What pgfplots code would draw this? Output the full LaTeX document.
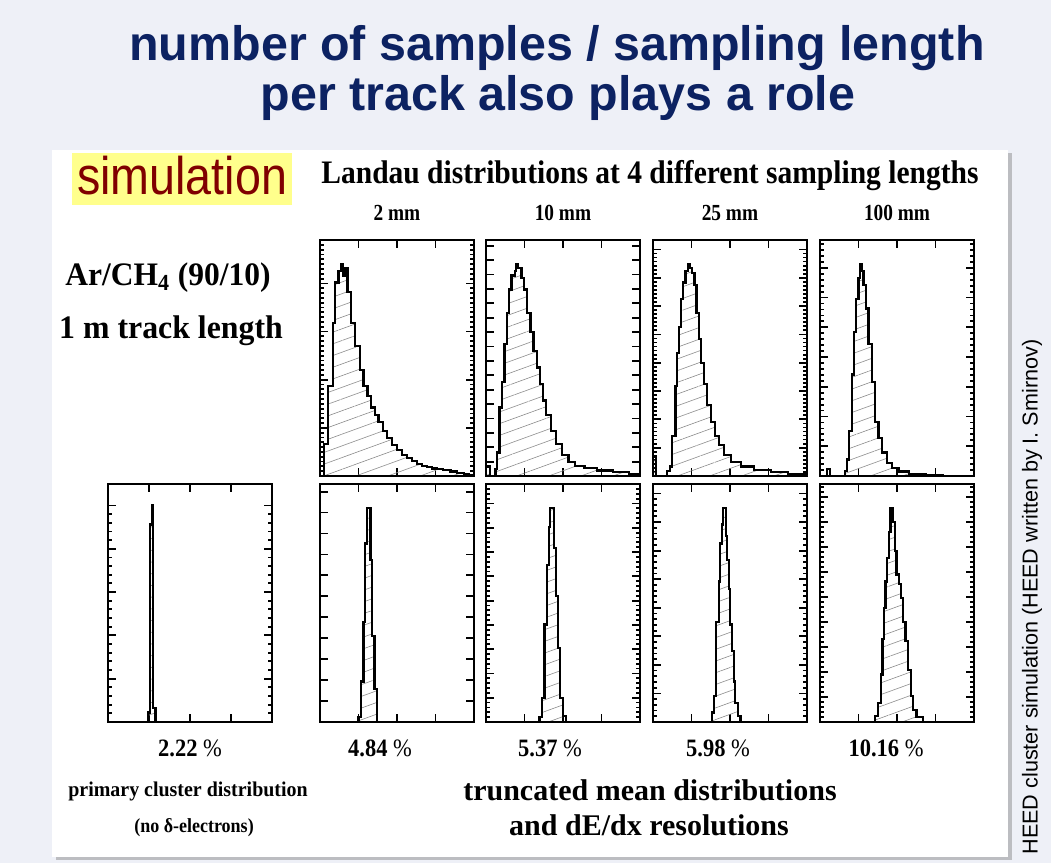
\documentclass[border=0pt]{standalone}
\usepackage{pgfplots}
\pgfplotsset{compat=1.18}
\usetikzlibrary{patterns.meta,shadows}
\usepackage{fontspec}
\setmainfont{Liberation Serif}
\newfontfamily\sans{Liberation Sans}

\definecolor{titleblue}{RGB}{12,34,98}
\definecolor{simred}{RGB}{128,0,0}
\definecolor{simyellow}{RGB}{255,255,140}
\definecolor{slidebg}{RGB}{238,240,247}

% positions below are in reference pixels, 1 px = 0.5pt, y downwards
\pgfplotsset{
  hist/.style={
    scale only axis, width=77pt, height=118pt,
    xmin=0, xmax=100, ymin=0, ymax=100,
    xtick={25,50,75}, xticklabels={}, yticklabels={},
    tick align=inside,
    major tick length=4pt, minor tick length=2.2pt,
    axis line style={line width=1.1pt},
    every tick/.append style={black, line width=0.9pt},
  },
  histfill/.style={const plot, draw=black, line width=1.1pt,
    pattern={Lines[angle=20,distance=5.5pt,line width=0.3pt]}, pattern color=black!45},
}

\begin{document}
\begin{tikzpicture}[x=0.5pt,y=-0.5pt]
\useasboundingbox (0,0) rectangle (1051,863);
% slide background and card
\fill[slidebg] (0,0) rectangle (1051,863);
\fill[white, drop shadow={shadow xshift=2pt, shadow yshift=-1.5pt, opacity=0.45}]
  (52,150) rectangle (1008,857);

% title
\node[anchor=base, font=\sans\bfseries\fontsize{24.2}{29}\selectfont, text=titleblue]
  at (557,60) {number of samples / sampling length};
\node[anchor=base, font=\sans\bfseries\fontsize{24.2}{29}\selectfont, text=titleblue]
  at (558,110) {per track also plays a role};

% labels
\fill[simyellow] (72,153) rectangle (292,205);
\node[anchor=base, xscale=0.88, font=\sans\fontsize{26.5}{30}\selectfont, text=simred]
  at (182,194) {simulation};
\node[anchor=base, xscale=0.9, font=\bfseries\fontsize{16.4}{19}\selectfont]
  at (650,183) {Landau distributions at 4 different sampling lengths};
\foreach \xx/\lab in {397/2 mm, 563/10 mm, 730/25 mm, 897/100 mm}
  \node[anchor=base, xscale=0.84, font=\bfseries\fontsize{11.5}{13}\selectfont]
    at (\xx,220) {\lab};
\node[anchor=base, xscale=0.96, font=\bfseries\fontsize{16.4}{19}\selectfont]
  at (168,285) {Ar/CH\textsubscript{4} (90/10)};
\node[anchor=base, xscale=0.97, font=\bfseries\fontsize{16.4}{19}\selectfont]
  at (171,338) {1 m track length};

\foreach \xx/\lab in {190/2.22, 380/4.84, 550/5.37, 718/5.98, 886/10.16}
  \node[anchor=base, xscale=0.9, font=\fontsize{12.5}{14}\selectfont]
    at (\xx,756) {\textbf{\lab} \%};
\node[anchor=base, xscale=0.95, font=\bfseries\fontsize{10.5}{12}\selectfont]
  at (188,796) {primary cluster distribution};
\node[anchor=base, xscale=0.9, font=\bfseries\fontsize{10}{12}\selectfont]
  at (194,832) {(no δ-electrons)};
\node[anchor=base, xscale=1.0, font=\bfseries\fontsize{15}{18}\selectfont]
  at (650,800) {truncated mean distributions};
\node[anchor=base, xscale=1.0, font=\bfseries\fontsize{15}{18}\selectfont]
  at (649,835) {and dE/dx resolutions};
\node[rotate=90, font=\sans\fontsize{10.8}{13}\selectfont]
  at (1032,597) {HEED cluster simulation (HEED written by I. Smirnov)};

% ---- Landau distributions, top row ----
\begin{axis}[hist, at={(160pt,-120pt)}, anchor=north west,
  ytick={0,20.4,...,100}, minor y tick num=9]
\addplot[histfill] coordinates {
 (0,0) (2.6,13.5) (5.4,38) (8.3,65) (9.8,82) (12,87) (13.5,90) (15,85)
 (16.5,88) (17.8,78) (20,65) (22.8,55) (26,45) (28.3,38) (30.9,34) (33,29)
 (35.9,26) (38,23) (40.9,19) (43.5,16) (46.7,13) (50,11) (53.3,9) (56.5,7.5)
 (59.8,6.2) (63,5) (66.3,4.3) (69.6,3.7) (72.8,3.2) (76,2.8) (80,2.4)
 (84.8,1.9) (89,1.4) (93.5,0.9) (97,0.5) (100,0.5)} \closedcycle;
\end{axis}

\begin{axis}[hist, at={(243pt,-120pt)}, anchor=north west,
  ytick={0,6.1,...,100}]
\addplot[histfill] coordinates {
 (0,4) (2.5,0) (6.2,3) (7.2,10) (8.7,29) (10.3,40) (12,56) (13.4,69)
 (14.8,79) (16.5,85) (18.6,87) (19.5,90) (20.5,88) (21.6,88) (23.1,84)
 (24.7,79) (26.8,69) (28.9,61) (30.9,53) (33,46) (35,39) (37.1,32)
 (39.2,26) (42.3,19) (45.4,13.5) (49.5,9) (53.6,6) (57.7,4.3) (63.9,3.3)
 (72.2,2.3) (82.5,1.6) (92.8,1) (100,1)} \closedcycle;
\end{axis}

\begin{axis}[hist, at={(326.5pt,-120pt)}, anchor=north west,
  ytick={0,12,...,100}, minor y tick num=6]
\addplot[histfill] coordinates {
 (0,8) (2.2,0) (9.1,2) (10.9,4) (12.4,17) (14.6,38) (15.7,52) (16.7,63)
 (18.3,75) (19.6,82) (21.1,87) (22.6,90) (23.9,88) (25.4,86) (27,81)
 (28.3,69) (29.8,58) (31.3,48) (33,39) (35.2,30) (37.4,23) (40,17)
 (42.8,13) (46.1,9) (50.4,6) (57,4) (65.7,2.6) (76.5,1.6) (87.4,1)
 (100,1)} \closedcycle;
\end{axis}

\begin{axis}[hist, at={(410pt,-120pt)}, anchor=north west,
  ytick={0,12.6,...,100}, minor y tick num=4]
\addplot[histfill] coordinates {
 (0,0) (4.3,3) (6.5,0) (16.3,2) (17.4,7) (18.9,19) (20.7,43) (22.2,61)
 (23.5,75) (25,84) (26.1,90) (27.2,87) (28.3,81) (29.8,71) (31.5,56)
 (33.7,40) (35.9,23) (38,16) (40.2,10) (43.5,5.5) (46.7,3.3) (51.1,1.9)
 (57.6,0.9) (68.5,0.3) (80,0) (100,0)} \closedcycle;
\end{axis}

% ---- primary clusters and truncated means, bottom row ----
\begin{axis}[hist, width=82pt, height=119pt, at={(54pt,-242pt)}, anchor=north west,
  ytick={0,18.2,...,100}, minor y tick num=4]
\addplot[histfill] coordinates {
 (0,0) (24.5,4) (25.4,83) (26.6,91) (27.6,6) (29,0) (100,0)} \closedcycle;
\end{axis}

\begin{axis}[hist, height=119pt, at={(160pt,-242pt)}, anchor=north west,
  ytick={0,8.8,...,100}]
\addplot[histfill] coordinates {
 (0,0) (25,2) (26.5,17) (28.2,42) (29.3,75) (30.6,90) (32.8,68) (33.9,36)
 (35.4,14) (37.2,0) (100,0)} \closedcycle;
\end{axis}

\begin{axis}[hist, height=119pt, at={(243pt,-242pt)}, anchor=north west,
  ytick={0,10.2,...,100}, minor y tick num=4]
\addplot[histfill] coordinates {
 (0,0) (34.8,2) (36.3,10) (38,41) (39.6,66) (40.9,82) (41.7,90) (43.9,73)
 (45.2,53) (46.7,31) (48.3,10) (50,2.5) (52.2,0) (100,0)} \closedcycle;
\end{axis}

\begin{axis}[hist, height=119pt, at={(326.5pt,-242pt)}, anchor=north west,
  ytick={0,12,...,100}, minor y tick num=4]
\addplot[histfill] coordinates {
 (0,0) (38.2,4) (39.7,11) (41,42) (42.6,59) (43.7,75) (44.8,83) (45.4,90)
 (47.2,78) (48,68) (49.1,56) (50.2,41) (51.3,30) (52.4,17) (53.5,8)
 (55,2.5) (56.8,0) (100,0)} \closedcycle;
\end{axis}

\begin{axis}[hist, height=119pt, at={(410pt,-242pt)}, anchor=north west,
  ytick={0,10.5,...,100}, minor y tick num=4]
\addplot[histfill] coordinates {
 (0,0) (35.6,2.5) (37.8,8) (39.5,20) (40.6,35) (41.7,48) (42.5,59)
 (43.6,69) (44.7,80) (45.8,90) (47.5,84) (48.6,72) (49.7,62) (51.2,58)
 (52.5,52) (54,42) (55.5,34) (57.2,22) (59,11) (60.5,5) (62.6,2) (67,0)
 (100,0)} \closedcycle;
\end{axis}
\end{tikzpicture}
\end{document}
